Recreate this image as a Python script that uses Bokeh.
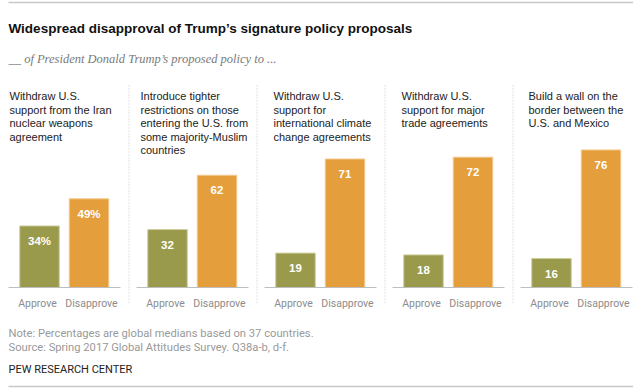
from bokeh.plotting import figure
from bokeh.models import Range1d, Label, ColumnDataSource
from bokeh.core.properties import value
from bokeh.embed import file_html
from bokeh.resources import INLINE

# ---------------- data ----------------
TITLE = "Widespread disapproval of Trump\u2019s signature policy proposals"
SUBTITLE = "__ of President Donald Trump\u2019s proposed policy to ..."
POLICIES = [
    ["Withdraw U.S.", "support from the Iran", "nuclear weapons", "agreement"],
    ["Introduce tighter", "restrictions on those", "entering the U.S. from",
     "some majority-Muslim", "countries"],
    ["Withdraw U.S.", "support for", "international climate", "change agreements"],
    ["Withdraw U.S.", "support for major", "trade agreements"],
    ["Build a wall on the", "border between the", "U.S. and Mexico"],
]
RESPONSES = ["Approve", "Disapprove"]
APPROVE = [34, 32, 19, 18, 16]
DISAPPROVE = [49, 62, 71, 72, 76]
NOTE = "Note: Percentages are global medians based on 37 countries."
SOURCE = "Source: Spring 2017 Global Attitudes Survey. Q38a-b, d-f."
CREDIT = "PEW RESEARCH CENTER"

# ---------------- layout / style ----------------
W, H = 633, 390
BASE = 287             # baseline (page px from top)
K = 1.81               # px per percentage point
PANEL_W = 128
PANEL_X0 = 8
BAR_W = 39.5
APP_OFF, DIS_OFF = 31, 80.5
TEXT_X = [9, 140, 273, 401, 528]
C_APP, C_DIS = "#9a9a4c", "#e49e3c"
L_APP, L_DIS = "#cdcd9c", "#f3ca8e"
SANS = "Liberation Sans"
SANS2 = "Roboto"

def sy(y):
    return H - y

def dy(y):
    return (BASE - y) / K

p = figure(width=W, height=H,
           x_range=Range1d(0, W),
           y_range=Range1d(dy(H), dy(0)),
           output_backend="svg", toolbar_location=None,
           x_axis_location=None, y_axis_location=None,
           min_border=0, outline_line_color=None)
p.grid.visible = False
p.background_fill_color = "white"
p.border_fill_color = "white"

n = len(APPROVE)
starts = [PANEL_X0 + PANEL_W * i for i in range(n)]

app_src = ColumnDataSource(dict(
    x=[s + APP_OFF for s in starts], top=APPROVE,
    lab=[f"{v}%" if i == 0 else str(v) for i, v in enumerate(APPROVE)],
    cat=[RESPONSES[0]] * n))
dis_src = ColumnDataSource(dict(
    x=[s + DIS_OFF for s in starts], top=DISAPPROVE,
    lab=[f"{v}%" if i == 0 else str(v) for i, v in enumerate(DISAPPROVE)],
    cat=[RESPONSES[1]] * n))

for src, fc, lc, xo in [(app_src, C_APP, L_APP, -2), (dis_src, C_DIS, L_DIS, 2.5)]:
    p.vbar(x="x", top="top", bottom=0, width=BAR_W, source=src,
           fill_color=fc, line_color=lc, line_width=1)
    p.text(x="x", y="top", text="lab", source=src, text_align="center",
           text_baseline="alphabetic", y_offset=15, text_color="white",
           text_font=value(SANS), text_font_style="bold", text_font_size="11.5px")
    p.text(x="x", y=0, text="cat", source=src, text_align="center",
           text_baseline="alphabetic", x_offset=xo, y_offset=16, text_color="#8c8c8c",
           text_font=value(SANS2), text_font_size="10.5px")

# baselines
p.segment(x0=starts, x1=[s + 112 for s in starts], y0=0, y1=0,
          line_color="#bdbdbd", line_width=1)
# dotted dividers
divs = [s - 7.5 for s in starts[1:]]
p.segment(x0=divs, x1=divs, y0=dy(85), y1=dy(304), line_color="#c4c4c4",
          line_width=1, line_dash="1 2")
# top and bottom rules
p.segment(x0=[8, 8], x1=[W, W], y0=[dy(2), dy(386)], y1=[dy(2), dy(386)],
          line_color="#c8c8c8", line_width=1.5)

def lab(x, y, text, size, color, font=SANS, style="normal"):
    p.add_layout(Label(x=x, y=sy(y), x_units="screen", y_units="screen",
                       text=text, text_font=font, text_font_size=size,
                       text_font_style=style, text_color=color,
                       text_baseline="alphabetic", text_align="left"))

lab(8, 28, TITLE, "13.5px", "#111111", style="bold")
lab(8, 58, SUBTITLE, "12.5px", "#7a7a7a", font="Liberation Serif", style="italic")

for i, lines in enumerate(POLICIES):
    for j, t in enumerate(lines):
        lab(TEXT_X[i], 95.5 + 13.5 * j, t, "11px", "#222222")

lab(8, 333, NOTE, "11.2px", "#9a9a9a", font=SANS2)
lab(8, 346.5, SOURCE, "11.2px", "#9a9a9a", font=SANS2)
lab(8, 369, CREDIT, "11px", "#222222", font=SANS2)

open("out.html", "w").write(file_html(p, INLINE))
